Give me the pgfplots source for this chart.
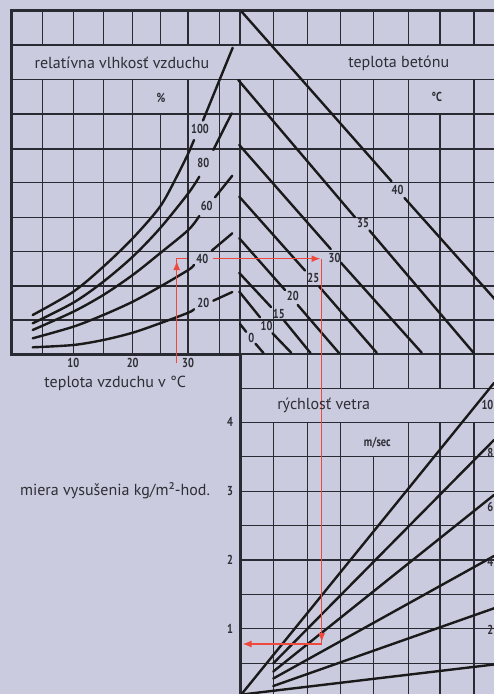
\documentclass[border=0pt]{standalone}
\usepackage{fontspec}
\setmainfont{PT Sans}
\usepackage{pgfplots}
\pgfplotsset{compat=1.18}
\usetikzlibrary{arrows.meta}
\definecolor{bg}{HTML}{CBCBDF}
\definecolor{grd}{HTML}{2A2A32}
\definecolor{ink}{HTML}{1A1A1A}
\definecolor{txt}{HTML}{2E2E36}
\definecolor{arr}{HTML}{F0483C}
\newcommand{\cn}[1]{\scalebox{0.8}[1]{#1}}
\tikzset{
  gridln/.style={grd, line width=1.2pt},
  frameln/.style={grd, line width=3pt, line join=miter},
  curve/.style={ink, line width=2.4pt, line cap=round},
  redline/.style={arr, line width=1.3pt},
  tip/.style={arr, line width=1.3pt, -{Latex[length=9pt,width=7pt]}},
  lbl/.style={font=\fontsize{16}{17}\selectfont, text=txt},
  num/.style={font=\fontsize{13}{14}\selectfont\bfseries, text=txt, inner sep=0pt},
}

\begin{document}
\begin{tikzpicture}
\begin{axis}[
  width=494pt, height=694pt, scale only axis,
  xmin=0, xmax=494, ymin=0, ymax=694, y dir=reverse,
  axis lines=none, xtick=\empty, ytick=\empty,
]
% background
\addplot[draw=none, fill=bg] coordinates {(-2,-2)(496,-2)(496,696)(-2,696)} -- cycle;

% grid: columns of the top left panel
\pgfplotsinvokeforeach{42.7,73.3,103.3,132.7,188,219.3,240}{
  \addplot[gridln] coordinates {(#1,10)(#1,45)};
  \addplot[gridln] coordinates {(#1,79.3)(#1,354)};
}
% this column leaves room for the % sign
\addplot[gridln] coordinates {(160.3,10)(160.3,45)};
\addplot[gridln] coordinates {(160.3,114)(160.3,354)};
% columns on the right, running into the lower panel
\pgfplotsinvokeforeach{273.3,307.3,340.3,408.3,474}{
  \addplot[gridln] coordinates {(#1,10)(#1,45)};
  \addplot[gridln] coordinates {(#1,79.3)(#1,388.3)};
  \addplot[gridln] coordinates {(#1,422.3)(#1,700)};
}
% gap for the degC sign
\addplot[gridln] coordinates {(440,10)(440,45)};
\addplot[gridln] coordinates {(440,114)(440,388.3)};
\addplot[gridln] coordinates {(440,422.3)(440,700)};
% gap for m/sec
\addplot[gridln] coordinates {(373.3,10)(373.3,45)};
\addplot[gridln] coordinates {(373.3,79.3)(373.3,388.3)};
\addplot[gridln] coordinates {(373.3,456.7)(373.3,700)};
% rows
\pgfplotsinvokeforeach{45,79.3,114,149,182.7,217.3,251.7,286,320}{
  \addplot[gridln] coordinates {(12,#1)(500,#1)};
}
\addplot[gridln] coordinates {(240,354)(500,354)};
\pgfplotsinvokeforeach{388.3,422.3,456.7,491.7,525.7,560,594.3,628.7,663.3}{
  \addplot[gridln] coordinates {(240,#1)(500,#1)};
}
% heavy frame
\addplot[frameln] coordinates {(500,10)(12,10)(12,354)(240,354)(240,700)};

% relative humidity curves (%)
\addplot[curve, smooth] coordinates {(32.7,315)(73.3,291.7)(103.3,266.7)(132.7,238.3)(160,206.7)(176.7,176.7)(188.3,153.3)(194,140)};
\addplot[curve] coordinates {(203,120.5)(232.7,47.7)};
\addplot[curve, smooth] coordinates {(32.7,323.3)(73.3,302.7)(103.3,281.7)(132.7,256.7)(160,228.3)(188.3,193.3)(199.3,176.7)};
\addplot[curve] coordinates {(213.3,150)(231.7,113.3)};
\addplot[curve, smooth] coordinates {(32.7,330)(73.3,311.7)(103.3,295)(132.7,275)(160,253.3)(188.3,230)(199.3,216)};
\addplot[curve] coordinates {(215,197.3)(232.3,175.7)};
\addplot[curve, smooth] coordinates {(32.7,338.3)(73.3,326.7)(103.3,315)(132.7,301.7)(160,286.7)(188.3,270)(194,265)};
\addplot[curve] coordinates {(211.7,250.7)(232.3,233.3)};
\addplot[curve, smooth] coordinates {(32.7,347.3)(73.3,345)(103.3,340)(132.7,332.7)(160,323.3)(188.3,312.7)(194,309.3)};
\addplot[curve] coordinates {(213.3,300.7)(232.3,292)};

% concrete temperature lines (deg C)
\addplot[curve] coordinates {(241.7,11.7)(391.5,181.3)};
\addplot[curve] coordinates {(404.5,198)(500,305)};
\addplot[curve] coordinates {(238.3,80)(355,217.3)};
\addplot[curve] coordinates {(369.5,230.5)(474,353.3)};
\addplot[curve] coordinates {(239.3,145)(330.7,249)};
\addplot[curve] coordinates {(341,262.8)(421.7,352.7)};
\addplot[curve] coordinates {(239.3,196.7)(305,270.5)};
\addplot[curve] coordinates {(319.3,286.7)(376.7,352.7)};
\addplot[curve] coordinates {(239.3,238.3)(285,290)};
\addplot[curve] coordinates {(297.7,305)(339,353)};
\addplot[curve] coordinates {(239.3,273)(271,307)};
\addplot[curve] coordinates {(284,320.5)(310.5,353)};
\addplot[curve] coordinates {(239.3,291.7)(260,317.3)};
\addplot[curve] coordinates {(272.5,333.3)(291.2,352.7)};
\addplot[curve] coordinates {(240,324)(246.2,331.8)};
\addplot[curve] coordinates {(255.5,343.7)(263.5,353)};

% wind speed lines (m/sec)
\addplot[curve] coordinates {(241.7,694)(494,383)};
\addplot[curve] coordinates {(273.3,663.3)(494,440)};
\addplot[curve] coordinates {(273.3,671.5)(494,495)};
\addplot[curve] coordinates {(273.3,678.5)(494,556)};
\addplot[curve] coordinates {(273.3,686)(494,608.3)};
\addplot[curve] coordinates {(242,694.5)(494,664.5)};

% worked example
\addplot[redline] coordinates {(176.7,363.3)(176.7,258.7)(187,258.7)};
\addplot[tip] coordinates {(176.7,285)(176.7,261)};
\addplot[tip] coordinates {(213.3,258.7)(320.5,258.7)};
\addplot[redline] coordinates {(321.7,258.7)(321.7,644)};
\addplot[tip] coordinates {(321.7,620)(321.7,642)};
\addplot[tip] coordinates {(321.7,644)(242.5,644)};

% texts
\node[lbl] at (122,63.3) {relatívna vlhkosť vzduchu};
\node[lbl] at (398.7,63.3) {teplota betónu};
\node[lbl] at (323.7,405) {rýchlosť vetra};
\node[lbl] at (115.3,383.3) {teplota vzduchu v °C};
\node[lbl] at (115,491) {miera vysušenia kg/m²-hod.};
\node[num] at (161,97.7) {\cn{\%}};
\node[num] at (436.7,96.7) {\cn{°C}};
\node[num] at (377.3,442.7) {\cn{m/sec}};
\node[num] at (200,129.3) {\cn{100}};
\node[num] at (203.3,162.5) {\cn{80}};
\node[num] at (206.7,205.5) {\cn{60}};
\node[num] at (202.3,258.7) {\cn{40}};
\node[num] at (203.3,303.3) {\cn{20}};
\node[num] at (397.5,189.5) {\cn{40}};
\node[num] at (363,223.5) {\cn{35}};
\node[num] at (334.5,257.5) {\cn{30}};
\node[num] at (313.3,278.3) {\cn{25}};
\node[num] at (292.8,295.5) {\cn{20}};
\node[num] at (278.8,313.5) {\cn{15}};
\node[num] at (266.5,326.3) {\cn{10}};
\node[num] at (251.3,337.5) {\cn{0}};
\node[num] at (73.3,362.7) {\cn{10}};
\node[num] at (132.7,362.7) {\cn{20}};
\node[num] at (188,362.7) {\cn{30}};
\node[num] at (230,421.7) {\cn{4}};
\node[num] at (230,491) {\cn{3}};
\node[num] at (230,560) {\cn{2}};
\node[num] at (230,628.5) {\cn{1}};
\node[num, anchor=east] at (493.5,405) {\cn{10}};
\node[num, anchor=east] at (493.5,453) {\cn{8}};
\node[num, anchor=east] at (493.5,506.7) {\cn{6}};
\node[num, anchor=east] at (493.5,561.7) {\cn{4}};
\node[num, anchor=east] at (493.5,630) {\cn{2}};
\end{axis}
\pgfresetboundingbox
\path[use as bounding box] (current axis.south west) rectangle (current axis.north east);
\end{tikzpicture}
\end{document}
